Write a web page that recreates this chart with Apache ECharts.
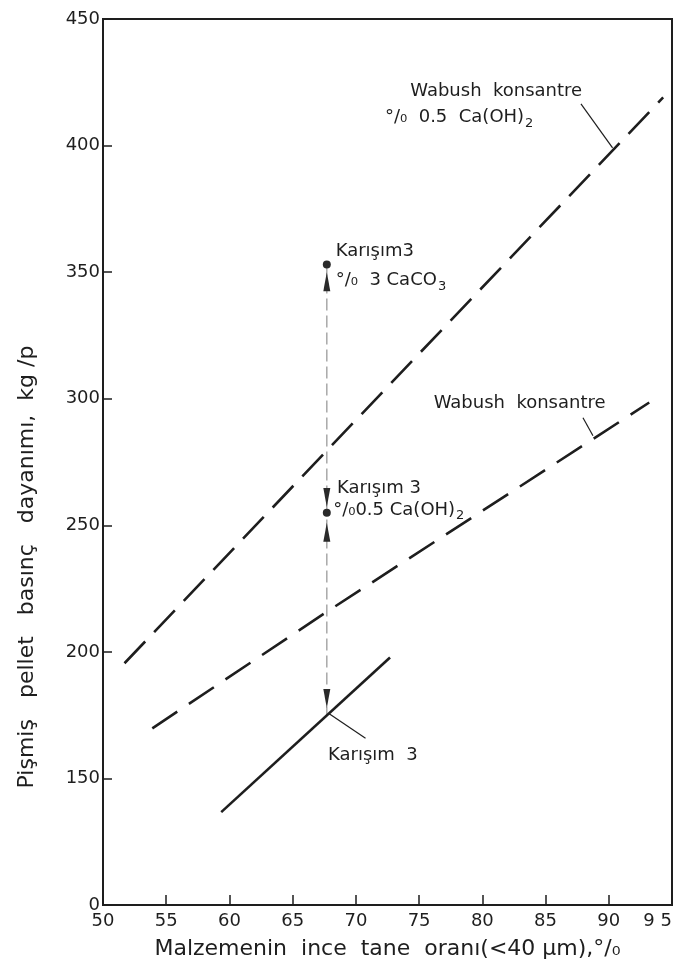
<!DOCTYPE html>
<html>
<head>
<meta charset="utf-8">
<script src="https://cdn.jsdelivr.net/npm/echarts@6/dist/echarts.min.js"></script>
<style>html,body{margin:0;padding:0;background:#fff}#c{width:681px;height:980px}</style>
</head>
<body>
<div id="c"></div>
<script>
// ---- data ----
const xTickValues = [50, 55, 60, 65, 70, 75, 80, 85, 90, 95];
const xTickLabels = ['50', '55', '60', '65', '70', '75', '80', '85', '90', '9 5'];
const yTickValues = [100, 150, 200, 250, 300, 350, 400, 450];
const yTickLabels = ['0', '150', '200', '250', '300', '350', '400', '450']; // broken axis: bottom labelled 0

const wabushCaOH = [[51.7, 195.5], [67.7, 279.5], [94.3, 419]];
const wabush = [[53.9, 169.8], [67.6, 215.5], [93.2, 298.5]];
const karisim3 = [[59.35, 136.7], [72.7, 197.8]];

const karisimX = 67.7;
const karisimCaCO3 = 353;
const karisimCaOH = 255;
const karisimBase = 175;

// arrowheads along the vertical guide (centre value of each head)
const arrowsUp = [346.2, 247.2];
const arrowsDown = [261.0, 181.6];

const leaders = [
  [[87.8, 416.5], [90.3, 399.1]],
  [[87.96, 292.5], [88.75, 285.4]],
  [[67.83, 175.7], [70.76, 165.9]]
];

const notes = [
  { pos: [74.3, 421.6], text: '{a|Wabush  konsantre}' },
  { pos: [72.3, 411.0], text: '{a|°/₀  0.5  Ca(OH)}{s|2}' },
  { pos: [68.4, 358.4], text: '{a|Karışım3}' },
  { pos: [68.4, 346.6], text: '{a|°/₀  3 CaCO}{s|3}' },
  { pos: [76.15, 298.0], text: '{a|Wabush  konsantre}' },
  { pos: [68.5, 264.5], text: '{a|Karışım 3}' },
  { pos: [68.2, 255.8], text: '{a|°/₀0.5 Ca(OH)}{s|2}' },
  { pos: [67.8, 159.2], text: '{a|Karışım  3}' }
];

const xTitle = 'Malzemenin  ince  tane  oranı(<40 μm),°/₀';
const yTitle = 'Pişmiş   pellet   basınç   dayanımı,  kg /p';

const ink = '#1e1e1e';
const font = 'DejaVu Sans';

const chart = echarts.init(document.getElementById('c'), null, { renderer: 'canvas' });

const noteSeries = notes.map(n => ({
  type: 'scatter',
  silent: true,
  symbolSize: 0,
  data: [n.pos],
  z: 10,
  itemStyle: { opacity: 1 },
  label: {
    show: true,
    position: 'right',
    distance: 0,
    color: ink,
    opacity: 1,
    formatter: n.text,
    rich: {
      a: { fontSize: 18, fontFamily: font, color: ink },
      s: { fontSize: 13, fontFamily: font, color: ink, padding: [11, 0, 0, 1] }
    }
  }
}));

chart.setOption({
  animation: false,
  backgroundColor: '#fff',
  grid: {
    left: 103, right: 9, top: 19, bottom: 75, show: true,
    borderColor: ink, borderWidth: 2, backgroundColor: 'transparent',
    outerBoundsMode: 'none', containLabel: false
  },
  graphic: [{
    type: 'text', x: 27, y: 567, rotation: Math.PI / 2,
    style: { text: yTitle, fontSize: 22, fontFamily: font, fill: ink, align: 'center', verticalAlign: 'middle' },
    silent: true
  }],
  xAxis: {
    type: 'value', min: 50, max: 95, interval: 5,
    name: xTitle,
    nameLocation: 'middle', nameGap: 33,
    nameTextStyle: { fontSize: 22, fontFamily: font, color: ink },
    axisLine: { lineStyle: { color: ink, width: 2 } },
    axisTick: { inside: true, length: 10, lineStyle: { color: ink, width: 1.5 } },
    axisLabel: {
      fontSize: 18, fontFamily: font, color: ink, margin: 7,
      alignMaxLabel: 'right',
      formatter: v => xTickLabels[xTickValues.indexOf(v)] ?? ''
    },
    splitLine: { show: false }
  },
  yAxis: {
    type: 'value', min: 100, max: 450, interval: 50,
    axisLine: { lineStyle: { color: ink, width: 2 } },
    axisTick: { inside: true, length: 9, lineStyle: { color: ink, width: 1.5 } },
    axisLabel: {
      fontSize: 18, fontFamily: font, color: ink, margin: 3,
      formatter: v => yTickLabels[yTickValues.indexOf(v)] ?? ''
    },
    splitLine: { show: false }
  },
  series: [
    {
      name: 'Wabush konsantre %0.5 Ca(OH)2', type: 'line', data: wabushCaOH, showSymbol: false, silent: true,
      lineStyle: { color: ink, width: 2.6, type: [30, 13] }
    },
    {
      name: 'Wabush konsantre', type: 'line', data: wabush, showSymbol: false, silent: true,
      lineStyle: { color: ink, width: 2.6, type: [30, 14] }
    },
    {
      name: 'Karışım 3', type: 'line', data: karisim3, showSymbol: false, silent: true,
      lineStyle: { color: ink, width: 2.6 }
    },
    {
      name: 'guide', type: 'line', silent: true, showSymbol: false, z: 1,
      lineStyle: { color: '#a8a8a8', width: 1.5, type: [12, 5] },
      data: [[karisimX, karisimCaCO3], [karisimX, karisimBase]]
    },
    {
      name: 'arrowsUp', type: 'scatter', silent: true, symbol: 'triangle', symbolSize: [7, 19],
      itemStyle: { color: '#2a2a2a', opacity: 1 },
      data: arrowsUp.map(v => [karisimX, v])
    },
    {
      name: 'arrowsDown', type: 'scatter', silent: true, symbol: 'triangle', symbolSize: [7, 19], symbolRotate: 180,
      itemStyle: { color: '#2a2a2a', opacity: 1 },
      data: arrowsDown.map(v => [karisimX, v])
    },
    {
      name: 'points', type: 'scatter', silent: true, symbolSize: 8,
      itemStyle: { color: '#2a2a2a', opacity: 1 },
      data: [[karisimX, karisimCaCO3], [karisimX, karisimCaOH]]
    },
    {
      name: 'leaders', type: 'lines', coordinateSystem: 'cartesian2d', silent: true,
      lineStyle: { color: ink, width: 1.2, opacity: 1 },
      data: leaders.map(c => ({ coords: c }))
    },
    ...noteSeries
  ]
});
</script>
</body>
</html>
